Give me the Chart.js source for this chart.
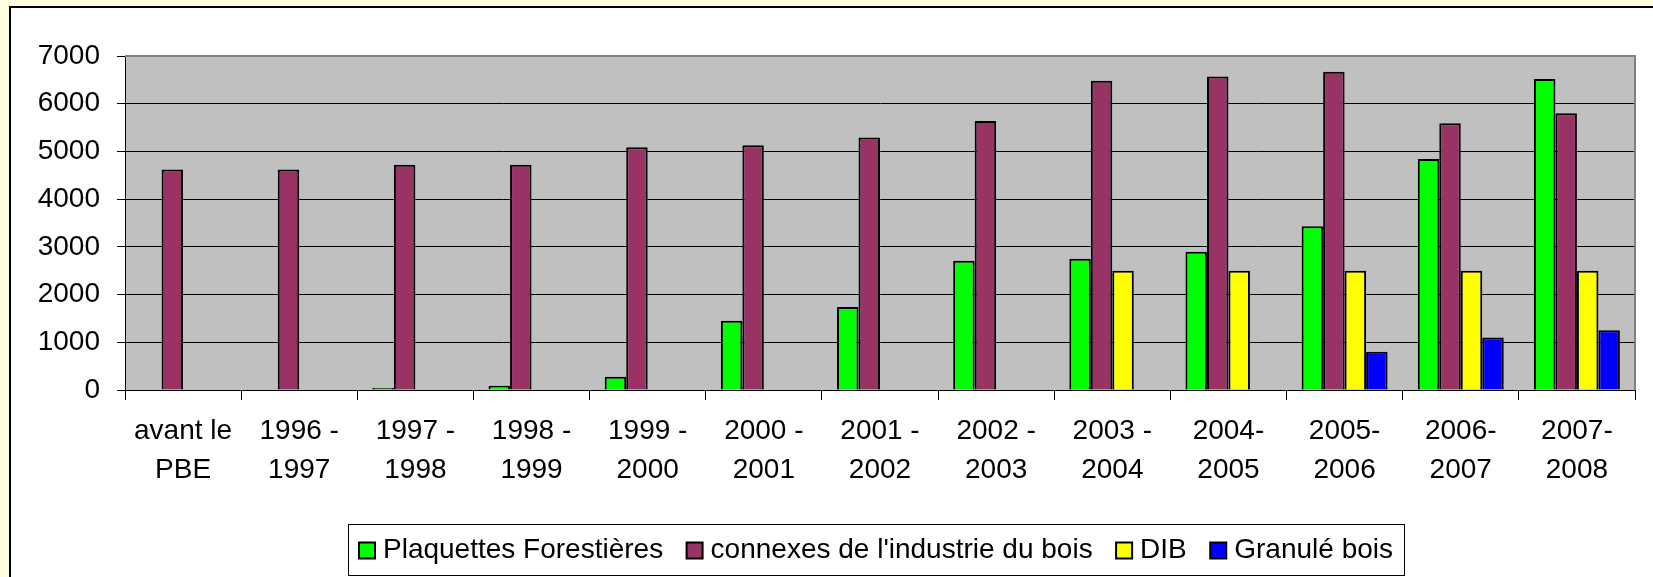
<!DOCTYPE html>
<html><head><meta charset="utf-8">
<script src="https://cdn.jsdelivr.net/npm/chart.js@4"></script>
<style>
html,body{margin:0;padding:0;background:#FFFFE0;overflow:hidden}
#wrap{position:absolute;left:0;top:0;width:1653px;height:577px}
</style>
</head><body><div id="wrap"><canvas id="c" width="1653" height="577"></canvas></div>
<script>
const categories = [["avant le","PBE"],["1996 -","1997"],["1997 -","1998"],["1998 -","1999"],["1999 -","2000"],["2000 -","2001"],["2001 -","2002"],["2002 -","2003"],["2003 -","2004"],["2004-","2005"],["2005-","2006"],["2006-","2007"],["2007-","2008"]];
const plaquettes = [null,null,40,90,280,1450,1740,2710,2750,2900,3430,4840,6520];
const connexes = [4620,4620,4720,4720,5090,5130,5290,5640,6480,6570,6670,5590,5800];
const dib = [null,null,null,null,null,null,null,null,2500,2500,2500,2500,2500];
const granule = [null,null,null,null,null,null,null,null,null,null,800,1100,1250];
const seriesNames = ["Plaquettes Forestières","connexes de l'industrie du bois","DIB","Granulé bois"];
const seriesColors = ["#00FF00","#993366","#FFFF00","#0000FF"];
const yMin = 0, yMax = 7000, yStep = 1000;

const FONT = "'Liberation Sans', Arial, sans-serif";

const framePlugin = {
  id: 'frame',
  beforeDraw(chart) {
    const ctx = chart.ctx, a = chart.chartArea;
    ctx.save();
    ctx.fillStyle = '#FFFFE0';
    ctx.fillRect(0, 0, chart.width, chart.height);
    ctx.fillStyle = '#FFFFFF';
    ctx.fillRect(10, 7, chart.width, chart.height);
    ctx.strokeStyle = '#000000';
    ctx.lineWidth = 2;
    ctx.strokeRect(10, 7, chart.width + 20, chart.height + 20);
    ctx.fillStyle = '#C0C0C0';
    ctx.fillRect(a.left, a.top, a.right - a.left, a.bottom - a.top);
    ctx.restore();
  },
  beforeDatasetsDraw(chart) {
    const ctx = chart.ctx, a = chart.chartArea;
    ctx.save();
    ctx.strokeStyle = '#808080';
    ctx.lineWidth = 2;
    ctx.beginPath();
    ctx.moveTo(a.left, a.top);
    ctx.lineTo(a.right, a.top);
    ctx.lineTo(a.right, a.bottom);
    ctx.stroke();
    ctx.restore();
  },
  afterDraw(chart) {
    const ctx = chart.ctx;
    ctx.save();
    const bx = 348, by = 524, bw = 1056, bh = 51;
    ctx.fillStyle = '#FFFFFF';
    ctx.fillRect(bx, by, bw, bh);
    ctx.strokeStyle = '#000000';
    ctx.lineWidth = 1;
    ctx.strokeRect(bx + 0.5, by + 0.5, bw, bh);
    ctx.font = '28px ' + FONT;
    ctx.textBaseline = 'middle';
    ctx.fillStyle = '#000';
    const mk = 16, gapT = 8, margin = 11;
    const ds = chart.data.datasets;
    const widths = ds.map(d => ctx.measureText(d.label).width);
    const used = widths.reduce((s, w) => s + w, 0) + ds.length * (mk + gapT);
    const sp = (bw - 2 * margin - used) / (ds.length - 1);
    let x = bx + margin;
    const cy = by + bh / 2 + 1;
    ds.forEach((d, i) => {
      ctx.fillStyle = d.backgroundColor;
      ctx.fillRect(x, cy - mk / 2, mk, mk);
      ctx.strokeStyle = '#000';
      ctx.lineWidth = 2;
      ctx.strokeRect(x, cy - mk / 2, mk, mk);
      ctx.fillStyle = '#000';
      ctx.fillText(d.label, x + mk + gapT, cy);
      x += mk + gapT + widths[i] + sp;
    });
    ctx.restore();
  }
};

const data = {
  labels: categories,
  datasets: [plaquettes, connexes, dib, granule].map((vals, i) => ({
    label: seriesNames[i],
    data: vals,
    backgroundColor: seriesColors[i],
    borderColor: '#000000',
    borderWidth: 2,
    borderSkipped: 'start',
    categoryPercentage: 0.74,
    barPercentage: 1.0
  }))
};

new Chart(document.getElementById('c'), {
  type: 'bar',
  data,
  options: {
    responsive: false,
    animation: false,
    devicePixelRatio: 1,
    layout: { padding: { left: 0, top: 56, right: 18, bottom: 0 } },
    plugins: { legend: { display: false }, tooltip: { enabled: false } },
    scales: {
      x: {
        type: 'category',
        offset: true,
        grid: { offset: true, drawOnChartArea: false, drawTicks: true, tickLength: 10, color: '#000', lineWidth: 1 },
        border: { display: true, color: '#000', width: 1 },
        ticks: { color: '#000', padding: 12, maxRotation: 0, autoSkip: false, font: { family: FONT, size: 28, lineHeight: 1.39 } },
        afterFit(s) { s.height = 187; }
      },
      y: {
        min: yMin, max: yMax,
        ticks: { stepSize: yStep, color: '#000', padding: 17, font: { family: FONT, size: 28 }, callback: v => String(v) },
        grid: { color: '#000', lineWidth: 1, tickLength: 8, drawTicks: true },
        border: { display: true, color: '#000', width: 1 },
        afterFit(s) { s.width = 125; }
      }
    }
  },
  plugins: [framePlugin]
});
</script>
</body></html>
